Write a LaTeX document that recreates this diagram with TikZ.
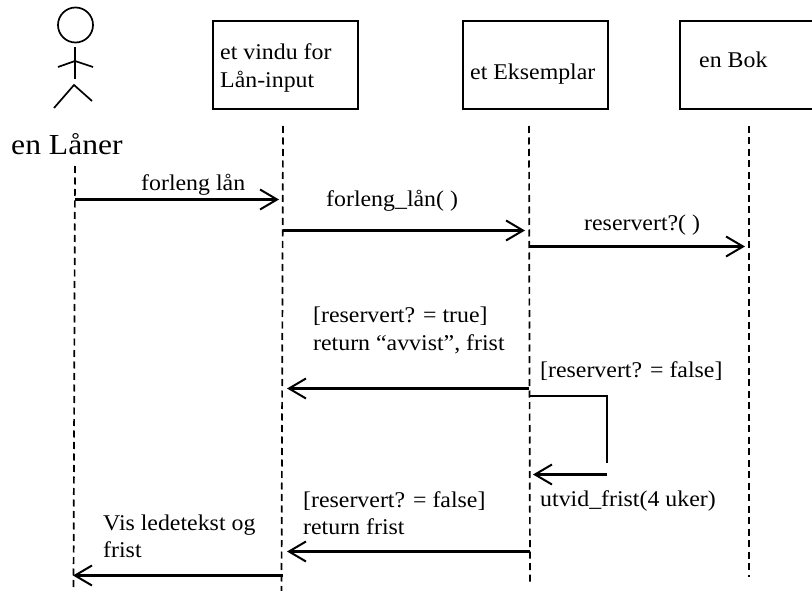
\documentclass[tikz,border=0pt]{standalone}
\usepackage{fontspec}
\setmainfont{Liberation Serif}
\usetikzlibrary{arrows.meta}
\tikzset{
  obj/.style={draw,line width=1.8pt,minimum width=145pt,minimum height=88pt,inner sep=0pt,anchor=north west},
  life/.style={line width=1.7pt,dash pattern=on 7pt off 4.5pt},
  msg/.style={line width=2.2pt,-{Straight Barb[length=17pt,width=20pt,line width=2pt]}},
  plain/.style={line width=2pt},
  txt/.style={font=\fontsize{22.5}{26}\selectfont,inner sep=0pt,anchor=base west,align=left,xscale=1.06},
  big/.style={font=\fontsize{29}{32}\selectfont,inner sep=0pt,anchor=base west,xscale=1.09},
  stick/.style={line width=1.7pt}
}
\begin{document}
\begin{tikzpicture}[x=1pt,y=-1pt]
\useasboundingbox (0,0) rectangle (812,591);
% actor
\node[circle,draw,line width=1.7pt,minimum size=35pt,inner sep=0pt] (head) at (75.5,25) {};
\coordinate (neck) at (75,47); \coordinate (hip) at (75,79);
\coordinate (armL) at (58,67); \coordinate (armM) at (75,61); \coordinate (armR) at (93,67);
\coordinate (legL) at (54,108); \coordinate (legM) at (74,85); \coordinate (legR) at (92,101);
\draw[stick] (neck) -- (hip);
\draw[stick] (armL) -- (armM) -- (armR);
\draw[stick] (legL) -- (legM) -- (legR);
\node[big] (actor) at (11,154.5) {en Låner};
% objects
\node[obj] (vindu) at (212,20.5) {};
\node[obj] (eks) at (462,20.5) {};
\node[obj] (bok) at (679,20.5) {};
\node[txt] (vinduT) at (220,60) {et vindu for};
\node[txt] (vinduT2) at (220,88) {Lån-input};
\node[txt] (eksT) at (470,80) {et Eksemplar};
\node[txt] (bokT) at (699,68) {en Bok};
% lifelines
\coordinate (a0) at (75,166); \coordinate (a1) at (73.5,591);
\coordinate (b0) at (283,126); \coordinate (b1) at (281.5,591);
\coordinate (c0) at (529,126); \coordinate (c1) at (530,582);
\coordinate (d0) at (749,126); \coordinate (d1) at (749,577);
\draw[life] (a0) -- (a1);
\draw[life] (b0) -- (b1);
\draw[life] (c0) -- (c1);
\draw[life] (d0) -- (d1);
% messages
\coordinate (m1a) at (75,199.5); \coordinate (m1b) at (279,199.5);
\coordinate (m2a) at (283,230.5); \coordinate (m2b) at (525,230.5);
\coordinate (m3a) at (529,246.5); \coordinate (m3b) at (745,246.5);
\coordinate (m4a) at (529,388.5); \coordinate (m4b) at (287,388.5);
\coordinate (s1) at (529,395.5); \coordinate (s2) at (606.5,395.5); \coordinate (s3) at (606.5,463);
\coordinate (s4) at (607,474.5); \coordinate (s5) at (533,474.5);
\coordinate (m5a) at (530,551.5); \coordinate (m5b) at (287,551.5);
\coordinate (m6a) at (283,575.5); \coordinate (m6b) at (73,575.5);
\draw[msg] (m1a) -- (m1b);
\draw[msg] (m2a) -- (m2b);
\draw[msg] (m3a) -- (m3b);
\draw[msg] (m4a) -- (m4b);
\draw[plain] (s1) -- (s2) -- (s3);
\draw[msg] (s4) -- (s5);
\draw[msg] (m5a) -- (m5b);
\draw[msg] (m6a) -- (m6b);
% labels
\node[txt] (l1) at (141,190.5) {forleng lån};
\node[txt] (l2) at (326,207) {forleng\_lån( )};
\node[txt] (l3) at (584,231) {reservert?( )};
\node[txt] (l4) at (313,322.5) {[reservert? = true]};
\node[txt] (l4b) at (313,350) {return “avvist”, frist};
\node[txt] (l5) at (540,377) {[reservert? = false]};
\node[txt] (l6) at (303,507) {[reservert? = false]};
\node[txt] (l6b) at (303,534) {return frist};
\node[txt] (l7) at (540,506) {utvid\_frist(4 uker)};
\node[txt] (l8) at (103,530) {Vis ledetekst og};
\node[txt] (l8b) at (103,557) {frist};
\end{tikzpicture}
\end{document}
